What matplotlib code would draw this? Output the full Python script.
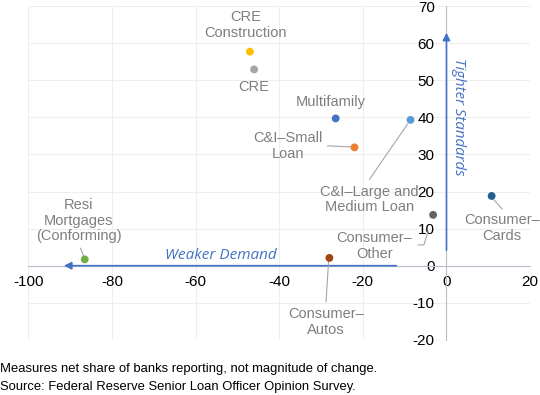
import matplotlib
matplotlib.use("Agg")
import matplotlib.pyplot as plt

# net share of banks: weaker demand (x) vs tighter standards (y)
categories = [
    "CRE\nConstruction", "CRE", "Multifamily", "C&I\u2013Small\nLoan",
    "C&I\u2013Large and\nMedium Loan", "Consumer\u2013\nOther", "Consumer\u2013\nCards",
    "Consumer\u2013\nAutos", "Resi\nMortgages\n(Conforming)",
]
demand = [-47, -46, -26.5, -22, -8.6, -3.2, 10.8, -28, -86.5]
standards = [57.7, 52.9, 39.7, 31.9, 39.3, 13.7, 18.8, 2.1, 1.7]
colors = ["#FFC000", "#A5A5A5", "#4472C4", "#ED7D31", "#5B9BD5",
          "#636363", "#255E91", "#9E480E", "#70AD47"]

x_ticks = [-100, -80, -60, -40, -20, 0, 20]
y_ticks = [-20, -10, 0, 10, 20, 30, 40, 50, 60, 70]

# label centres and leader lines (data coords)
label_pos = [(-48, 64.9), (-46, 48.2), (-27.6, 44.2), (-37.8, 32.2), (-18.5, 17.8),
             (-17.2, 5.3), (13.2, 10.1), (-28.8, -15.1), (-87.9, 12.1)]
leaders = {
    3: [(-28.4, 32.3), (-22.5, 32.0)],
    4: [(-18.4, 23.3), (-9.3, 38.2)],
    5: [(-6.8, 5.6), (-5.4, 5.6), (-4.4, 9.2)],
    6: [(11.3, 17.8), (13.3, 15.3)],
    7: [(-28.2, 1.2), (-28.8, -9.7)],
    8: [(-87.5, 4.7), (-86.7, 2.4)],
}

plt.rcParams["font.family"] = ["Liberation Sans", "DejaVu Sans"]
BLUE = "#4472C4"
LABEL_GRAY = "#7F7F7F"
AXIS = "#B8C0CE"

fig = plt.figure(figsize=(5.4, 3.95), dpi=100)
ax = fig.add_axes([0.0524, 0.1395, 0.9293, 0.8453])
ax.set_xlim(-100, 20)
ax.set_ylim(-20, 70)

ax.set_xticks(x_ticks)
ax.set_yticks(y_ticks)
ax.grid(color="#EEEEEE", linewidth=0.8)
ax.set_axisbelow(True)

for s in ["top", "right"]:
    ax.spines[s].set_visible(False)
ax.spines["left"].set_position(("data", 0))
ax.spines["bottom"].set_position(("data", 0))
ax.spines["left"].set_color(AXIS)
ax.spines["bottom"].set_color(AXIS)
ax.spines["left"].set_zorder(1)
ax.spines["bottom"].set_zorder(1)
ax.tick_params(axis="x", length=0, pad=6.5, labelsize=11, colors="black")
ax.tick_params(axis="y", length=0, pad=8.5, labelsize=11, colors="black")
ax.set_xticklabels([str(t) for t in x_ticks])
ax.set_yticklabels([str(t) for t in y_ticks])

# direction arrows
ax.annotate("", xy=(-91.5, 0), xytext=(-12, 0),
            arrowprops=dict(arrowstyle="-|>", color=BLUE, lw=1.2,
                            mutation_scale=11, shrinkA=0, shrinkB=0), zorder=3)
ax.annotate("", xy=(0, 62.8), xytext=(0, 4.2),
            arrowprops=dict(arrowstyle="-|>", color=BLUE, lw=1.2,
                            mutation_scale=11, shrinkA=0, shrinkB=0), zorder=3)
ax.text(-54, 2.7, "Weaker Demand", color=BLUE, style="italic", fontsize=11,
        ha="center", va="center", family=["Open Sans", "DejaVu Sans"])
ax.text(2.9, 40, "Tighter Standards", color=BLUE, style="italic", fontsize=10.8,
        ha="center", va="center", rotation=-90, family=["Open Sans", "DejaVu Sans"])

for i, pts in leaders.items():
    ax.plot([p[0] for p in pts], [p[1] for p in pts], color="#A6A6A6", lw=0.8, zorder=3)

ax.scatter(demand, standards, s=32, c=colors, zorder=4, linewidths=0)

for name, (lx, ly) in zip(categories, label_pos):
    ax.text(lx, ly, name, ha="center", va="center", color=LABEL_GRAY,
            fontsize=10.5, linespacing=1.15, zorder=5)

fig.text(0.0, 1 - 369 / 395, "Measures net share of banks reporting, not magnitude of change.",
         fontsize=9.4, ha="left", va="center", color="black")
fig.text(0.0, 1 - 387 / 395, "Source: Federal Reserve Senior Loan Officer Opinion Survey.",
         fontsize=9.4, ha="left", va="center", color="black")

fig.savefig("out.png", dpi=100)
